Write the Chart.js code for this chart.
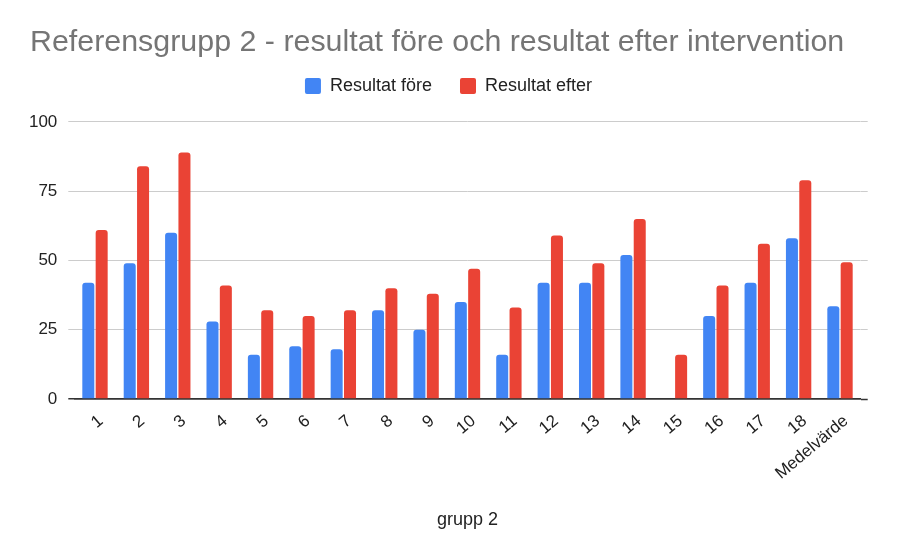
<!DOCTYPE html>
<html>
<head>
<meta charset="utf-8">
<script src="https://cdn.jsdelivr.net/npm/chart.js@4"></script>
<style>
    html, body { margin: 0; padding: 0; background: #fff; }
    #wrap { width: 897px; height: 555px; }
</style>
</head>
<body>
<div id="wrap"><canvas id="chart"></canvas></div>
<script>
const categories = ["1", "2", "3", "4", "5", "6", "7", "8", "9", "10", "11", "12", "13", "14", "15", "16", "17", "18", "Medelvärde"];
const resultatFore = [42, 49, 60, 28, 16, 19, 18, 32, 25, 35, 16, 42, 42, 52, 0, 30, 42, 58, 33.5];
const resultatEfter = [61, 84, 89, 41, 32, 30, 32, 40, 38, 47, 33, 59, 49, 65, 16, 41, 56, 79, 49.4];
const yTicks = [0, 25, 50, 75, 100];

const fontFamily = "Arial, 'Liberation Sans', sans-serif";
const textColor = "#222222";
const gridColor = "#cccccc";
const axisColor = "#333333";

const barStyle = {
    borderRadius: 3,
    borderSkipped: "start",
    barPercentage: 0.9,
    categoryPercentage: 0.645
};

// Gridlines in the reference stick out a few pixels on both sides of the bars,
// the base line (value 0) is drawn dark
const lineColor = ctx => ctx.tick && ctx.tick.value === 0 ? axisColor : gridColor;
const lineWidth = ctx => ctx.tick && ctx.tick.value === 0 ? 1.5 : 1;

// Extra room between the legend and the plot area
const legendSpacer = {
    id: "legendSpacer",
    beforeLayout(chart) {
        const legend = chart.legend;
        if (!legend || legend.spacerPatched) return;
        const fit = legend.fit.bind(legend);
        legend.fit = function () {
            fit();
            this.height += 17;
        };
        legend.spacerPatched = true;
    }
};

new Chart(document.getElementById("chart"), {
    type: "bar",
    data: {
        labels: categories,
        datasets: [
            { label: "Resultat före", data: resultatFore, backgroundColor: "#4285f4", ...barStyle },
            { label: "Resultat efter", data: resultatEfter, backgroundColor: "#ea4335", ...barStyle }
        ]
    },
    plugins: [legendSpacer],
    options: {
        responsive: true,
        maintainAspectRatio: false,
        animation: false,
        layout: { padding: { left: 30, right: 30, top: 0, bottom: 0 } },
        plugins: {
            title: {
                display: true,
                text: "Referensgrupp 2 - resultat före och resultat efter intervention",
                align: "start",
                color: "#757575",
                font: { family: fontFamily, size: 30.4, weight: "normal", lineHeight: 1.2 },
                padding: { top: 24, bottom: -11.5 }
            },
            legend: {
                display: true,
                position: "top",
                labels: {
                    color: textColor,
                    font: { family: fontFamily, size: 18, lineHeight: 1.2 },
                    boxWidth: 16,
                    boxHeight: 16,
                    useBorderRadius: true,
                    borderRadius: 2,
                    padding: 28
                }
            },
            tooltip: { enabled: false }
        },
        scales: {
            x: {
                grid: { display: false },
                border: { display: true, color: axisColor, width: 1.5 },
                ticks: {
                    color: textColor,
                    font: { family: fontFamily, size: 17 },
                    maxRotation: 40,
                    minRotation: 40,
                    padding: 4,
                    labelOffset: 6,
                    autoSkip: false
                },
                title: {
                    display: true,
                    text: "grupp 2",
                    color: textColor,
                    font: { family: fontFamily, size: 18 },
                    padding: { top: 0, bottom: 24 }
                },
                afterFit: scale => { scale.height = 156; }
            },
            y: {
                min: 0,
                max: 100,
                afterBuildTicks: scale => { scale.ticks = yTicks.map(v => ({ value: v })); },
                grid: {
                    color: lineColor,
                    lineWidth: lineWidth,
                    tickColor: lineColor,
                    tickWidth: lineWidth,
                    drawTicks: true,
                    tickLength: 6
                },
                border: { display: false },
                ticks: {
                    color: textColor,
                    font: { family: fontFamily, size: 17 },
                    padding: 11
                },
                afterFit: scale => { scale.width = 44.3; }
            },
            yRight: {
                position: "right",
                min: 0,
                max: 100,
                afterBuildTicks: scale => { scale.ticks = yTicks.map(v => ({ value: v })); },
                grid: {
                    drawOnChartArea: false,
                    tickColor: lineColor,
                    tickWidth: lineWidth,
                    drawTicks: true,
                    tickLength: 7
                },
                border: { display: false },
                ticks: { display: false },
                afterFit: scale => { scale.width = 6.3; }
            }
        }
    }
});
</script>
</body>
</html>
